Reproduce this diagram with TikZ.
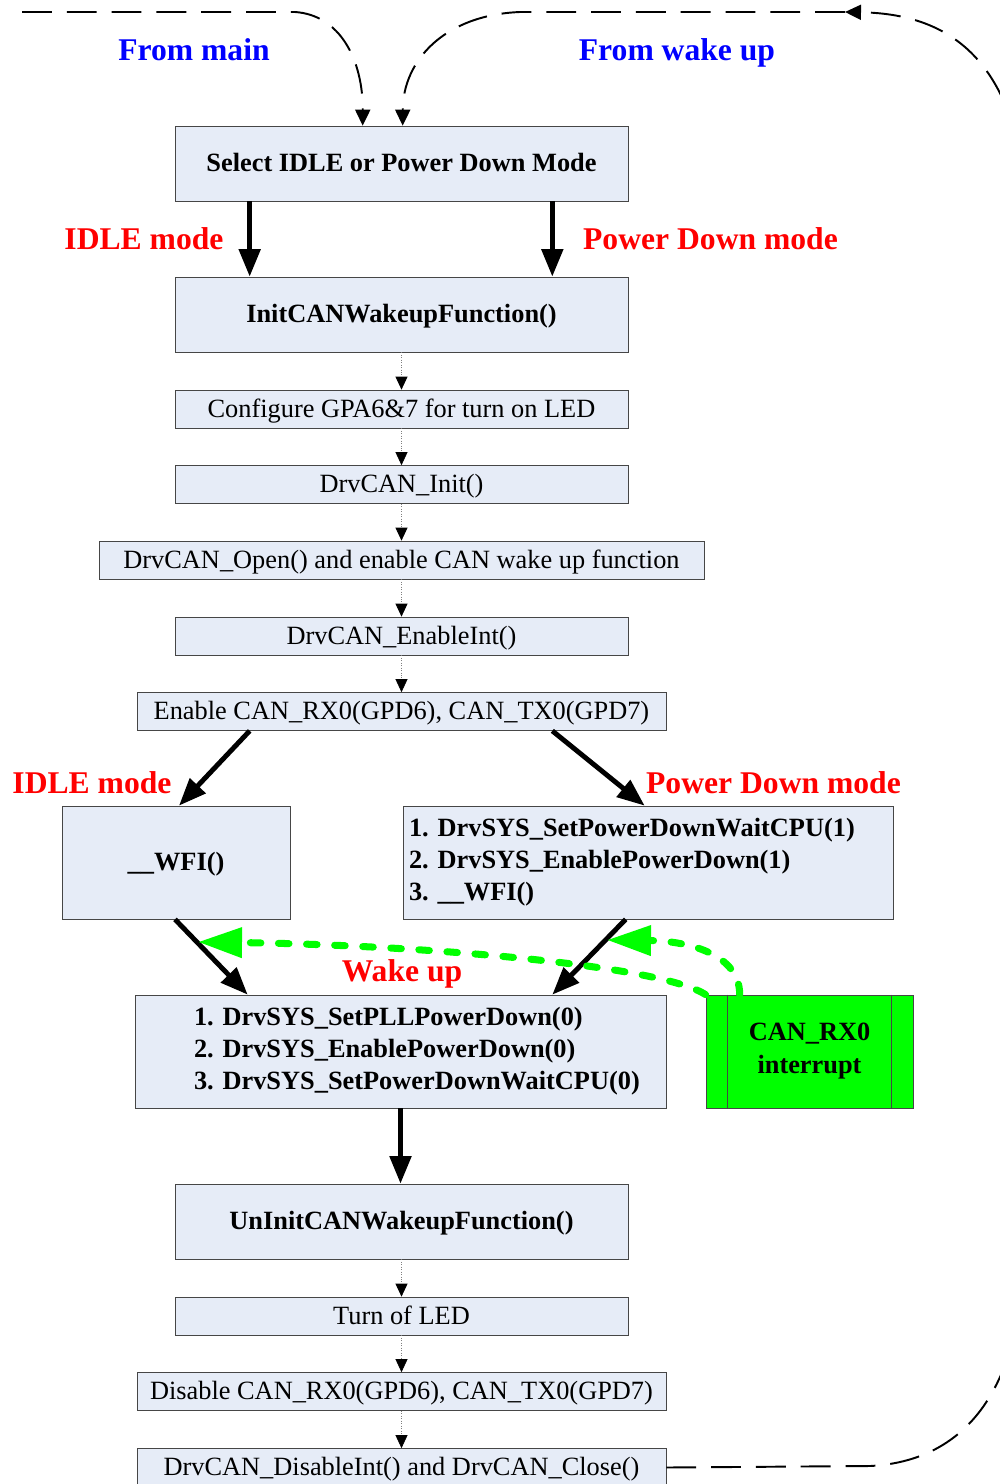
\documentclass[tikz,border=0pt]{standalone}
\usepackage{fontspec}
\setmainfont{Liberation Serif}
\usetikzlibrary{arrows.meta}

\definecolor{boxfill}{RGB}{230,236,247}
\definecolor{boxline}{RGB}{70,70,70}
\definecolor{irqgreen}{RGB}{0,255,0}

\begin{document}
\begin{tikzpicture}[x=0.02cm,y=-0.02cm]
	\tikzstyle{box} = [draw=boxline,fill=boxfill,inner sep=0pt,font=\fontsize{15}{18.2}\selectfont\frenchspacing]
	\tikzstyle{oneline} = [text height=13pt,text depth=3.5pt]
	\tikzstyle{bigbox} = [box,oneline,minimum width=9.06cm,minimum height=1.5cm,font=\fontsize{15}{18}\selectfont\bfseries]
	\tikzstyle{stepbox} = [box,oneline,minimum width=9.06cm,minimum height=0.76cm]
	\tikzstyle{mode} = [text=red,font=\fontsize{18}{21}\selectfont\bfseries]
	\tikzstyle{origin} = [text=blue,font=\fontsize{18}{21}\selectfont\bfseries]
	\tikzstyle{flow} = [line width=2.8pt,-{Triangle[length=0.55cm,width=0.42cm]}]
	\tikzstyle{next} = [densely dotted,draw=gray,-{Triangle[length=0.26cm,width=0.24cm,color=black]}]
	\tikzstyle{loop} = [line width=1.1pt,dash pattern=on 17pt off 8.5pt,-{Triangle[length=0.32cm,width=0.3cm]}]
	\tikzstyle{irq} = [draw=irqgreen,line width=4pt,line cap=round,dash pattern=on 6pt off 10pt,
		-{Triangle[length=0.88cm,width=0.58cm,color=irqgreen]}]
	\clip (0,0) rectangle (1000,1484);
	% entry
	\node[bigbox] (select) at (401.5,163.5) {Select IDLE or Power Down Mode};
	\node[bigbox] (init) at (401.5,314.5) {InitCANWakeupFunction()};
	% init steps
	\node[stepbox] (config) at (401.5,409) {Configure GPA6\&7 for turn on LED};
	\node[stepbox] (drvinit) at (401.5,484.5) {DrvCAN\_Init()};
	\node[stepbox,minimum width=12.1cm] (open) at (401.5,560) {DrvCAN\_Open() and enable CAN wake up function};
	\node[stepbox] (enint) at (401.5,636) {DrvCAN\_EnableInt()};
	\node[stepbox,minimum width=10.58cm] (enable) at (401.5,711.5) {Enable CAN\_RX0(GPD6), CAN\_TX0(GPD7)};
	% sleep
	\node[box,oneline,minimum width=4.56cm,minimum height=2.26cm,font=\fontsize{15}{18}\selectfont\bfseries] (wfi) at (176,862.5) {\_\_WFI()};
	\node[box,minimum width=9.8cm,minimum height=2.26cm,inner xsep=0.12cm,text width=9.56cm,align=left,
		font=\fontsize{15}{18.2}\selectfont\bfseries] (pdown) at (648,862.5)
		{1.~DrvSYS\_SetPowerDownWaitCPU(1)\\ 2.~DrvSYS\_EnablePowerDown(1)\\ 3.~\_\_WFI()};
	\node[box,minimum width=10.62cm,minimum height=2.26cm,text width=8.26cm,align=left,
		font=\fontsize{15}{18.2}\selectfont\bfseries] (wake) at (400.5,1051.5)
		{1.~DrvSYS\_SetPLLPowerDown(0)\\ 2.~DrvSYS\_EnablePowerDown(0)\\ 3.~DrvSYS\_SetPowerDownWaitCPU(0)};
	\node[draw=boxline,fill=irqgreen,minimum width=4.14cm,minimum height=2.26cm,inner sep=0pt,align=center,
		font=\fontsize{15}{18.8}\selectfont\bfseries] (canrx) at (809.5,1051.5) {CAN\_RX0\\ interrupt};
	\draw[boxline] ([xshift=0.44cm]canrx.north west) -- ([xshift=0.44cm]canrx.south west);
	\draw[boxline] ([xshift=-0.44cm]canrx.north east) -- ([xshift=-0.44cm]canrx.south east);
	% exit
	\node[bigbox] (uninit) at (401.5,1221.5) {UnInitCANWakeupFunction()};
	\node[stepbox] (ledoff) at (401.5,1316) {Turn of LED};
	\node[stepbox,minimum width=10.58cm] (disable) at (401.5,1391.5) {Disable CAN\_RX0(GPD6), CAN\_TX0(GPD7)};
	\node[stepbox,minimum width=10.58cm] (close) at (401.5,1467.5) {DrvCAN\_DisableInt() and DrvCAN\_Close()};
	% labels
	\node[origin] (frommain) at (194,50) {From main};
	\node[origin] (fromwake) at (677,52.5) {From wake up};
	\node[mode] (idle1) at (144,239) {IDLE mode};
	\node[mode] (pd1) at (710.5,239) {Power Down mode};
	\node[mode] (idle2) at (92,783) {IDLE mode};
	\node[mode] (pd2) at (773.5,783) {Power Down mode};
	\node[mode] (wakeup) at (402,974) {Wake up};
	% mode arrows
	\draw[flow] ([xshift=1.5cm]select.south west) -- ([xshift=1.5cm]init.north west);
	\draw[flow] ([xshift=-1.52cm]select.south east) -- ([xshift=-1.52cm]init.north east);
	\draw[flow] ([xshift=2.26cm]enable.south west) -- ([xshift=0.06cm]wfi.north);
	\draw[flow] ([xshift=-2.28cm]enable.south east) -- ([xshift=4.84cm]pdown.north west);
	\draw[flow] ([xshift=-0.02cm]wfi.south) -- ([xshift=2.26cm]wake.north west);
	\draw[flow] ([xshift=4.46cm]pdown.south west) -- ([xshift=-2.28cm]wake.north east);
	\draw[flow] (wake.south) -- (wake.south |- uninit.north);
	% step arrows
	\foreach \a/\b in {init/config,config/drvinit,drvinit/open,open/enint,enint/enable,
		uninit/ledoff,ledoff/disable,disable/close}
		\draw[next] (\a.south) -- (\b.north);
	% wake up from interrupt
	\coordinate (wfitip) at (198,942);
	\coordinate (pdtip) at (607,940);
	\draw[irq] (canrx.north west) .. controls (660,965) and (420,945) .. (wfitip);
	\draw[irq] ([xshift=0.68cm]canrx.north west) .. controls (740,955) and (690,941) .. (pdtip);
	% entry loops
	\coordinate (mainstart) at (22,12);
	\coordinate (loopend) at (845,12);
	\draw[loop] (mainstart) -- (295,12) .. controls (340,15) and (363,60) .. ([xshift=3.76cm]select.north west);
	\draw[loop] (close.east) -- (870,1466) .. controls (950,1462) and (1020,1410) .. (1025,1250)
		-- (1030,260) .. controls (1030,70) and (960,14) .. (loopend);
	\draw[loop] (loopend) -- (520,12) .. controls (445,15) and (403,60) .. ([xshift=4.56cm]select.north west);
\end{tikzpicture}
\end{document}
